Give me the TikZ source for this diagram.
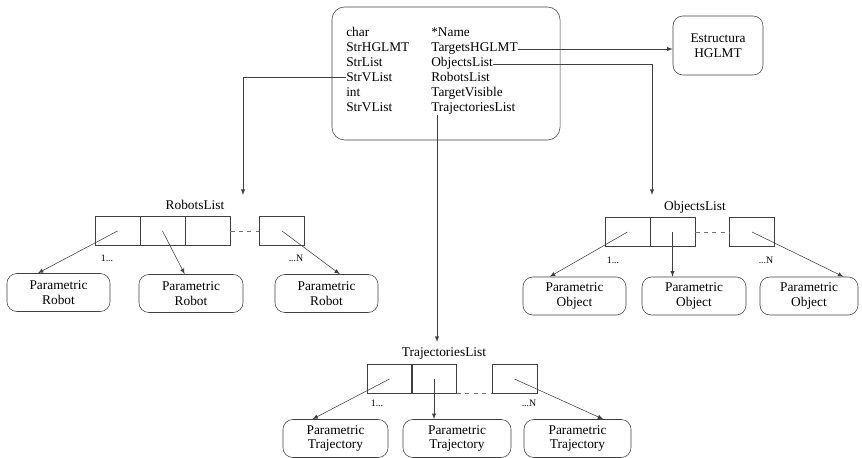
\documentclass[tikz,border=0pt]{standalone}
\usepackage{fontspec}
\setmainfont{Liberation Serif}
\usetikzlibrary{calc}
\tikzstyle{box_round} = [rectangle, draw=black!75, rounded corners=7pt, align=center, inner sep=1pt, font=\fontsize{9.5}{10.5}\selectfont]
\tikzstyle{box_cell} = [rectangle, draw=black!75, minimum width=1.125cm, minimum height=0.72cm, inner sep=0pt]
\tikzstyle{text_entry} = [anchor=base west, inner sep=0pt, font=\fontsize{9.5}{10.5}\selectfont]
\tikzstyle{text_label} = [inner sep=0pt, font=\fontsize{9.5}{10.5}\selectfont]
\tikzstyle{text_index} = [inner sep=0pt, font=\fontsize{7}{8}\selectfont]
\tikzstyle{edge_normal} = [draw=black!75, ->, >=latex]
\tikzstyle{edge_dash} = [draw=black!55, dashed]

\begin{document}
\begin{tikzpicture}[x=0.025cm, y=-0.025cm]
\useasboundingbox (0,0) rectangle (862,458);
% main structure
\node (M) at (446,73.5) [box_round, rounded corners=9pt, minimum width=5.7cm, minimum height=3.325cm] {};
\node (t1) at (346,37) [text_entry] {char};
\node (t2) at (346,52) [text_entry] {StrHGLMT};
\node (t3) at (346,67) [text_entry] {StrList};
\node (t4) at (346,82) [text_entry] {StrVList};
\node (t5) at (346,97) [text_entry] {int};
\node (t6) at (346,112) [text_entry] {StrVList};
\node (n1) at (431,37) [text_entry] {*Name};
\node (n2) at (431,52) [text_entry] {TargetsHGLMT};
\node (n3) at (431,67) [text_entry] {ObjectsList};
\node (n4) at (431,82) [text_entry] {RobotsList};
\node (n5) at (431,97) [text_entry] {TargetVisible};
\node (n6) at (431,112) [text_entry] {TrajectoriesList};
\node (E) at (718,45.5) [box_round, minimum width=2.25cm, minimum height=1.475cm] {Estructura\\HGLMT};

% robots list
\node (RL) at (195,205) [text_label] {RobotsList};
\node (rc1) at (117.5,231) [box_cell] {};
\node (rc2) at (162.5,231) [box_cell] {};
\node (rc3) at (207.5,231) [box_cell] {};
\node (rcn) at (282,231) [box_cell] {};
\node (ri1) at (107,258) [text_index] {1...};
\node (rin) at (296,258) [text_index] {...N};
\node (rb1) at (58.5,292.5) [box_round, minimum width=2.575cm, minimum height=0.95cm] {Parametric\\Robot};
\node (rb2) at (191,293.5) [box_round, minimum width=2.6cm, minimum height=0.95cm] {Parametric\\Robot};
\node (rb3) at (326.5,293.5) [box_round, minimum width=2.575cm, minimum height=0.95cm] {Parametric\\Robot};

% objects list
\node (OL) at (695,207) [text_label] {ObjectsList};
\node (oc1) at (627.5,232) [box_cell] {};
\node (oc2) at (672.5,232) [box_cell] {};
\node (ocn) at (752,232) [box_cell] {};
\node (oi1) at (613,260) [text_index] {1...};
\node (oin) at (766,260) [text_index] {...N};
\node (ob1) at (574.5,296) [box_round, minimum width=2.575cm, minimum height=0.95cm] {Parametric\\Object};
\node (ob2) at (694,296) [box_round, minimum width=2.6cm, minimum height=0.95cm] {Parametric\\Object};
\node (ob3) at (809,296) [box_round, minimum width=2.45cm, minimum height=0.95cm] {Parametric\\Object};

% trajectories list
\node (TL) at (444,353) [text_label] {TrajectoriesList};
\node (tc1) at (389.5,379) [box_cell] {};
\node (tc2) at (434,379) [box_cell] {};
\node (tcn) at (514.5,379) [box_cell] {};
\node (ti1) at (377,403) [text_index] {1...};
\node (tin) at (529,403) [text_index] {...N};
\node (tb1) at (335.5,438.5) [box_round, minimum width=2.625cm, minimum height=0.95cm] {Parametric\\Trajectory};
\node (tb2) at (457,438.5) [box_round, minimum width=2.7cm, minimum height=0.95cm] {Parametric\\Trajectory};
\node (tb3) at (577.5,438.5) [box_round, minimum width=2.675cm, minimum height=0.95cm] {Parametric\\Trajectory};

% links from the structure
\coordinate (r_in) at (243,195);
\coordinate (o_in) at (652,195);
\coordinate (t_in) at (437,342);
\draw[edge_normal] (n2.east) -- (n2.east -| E.west);
\draw[edge_normal] (n3.east) -| (o_in);
\draw[edge_normal] (t4.west) -| (r_in);
\draw[edge_normal] (t_in |- n6.south) -- (t_in);

% links from the cells
\draw[edge_dash] (rc3.east) -- (rcn.west);
\draw[edge_dash] (oc2.east) -- (ocn.west);
\draw[edge_dash] (tc2.south east) -- (tcn.south west);
\draw[edge_normal] (rc1.center) -- ($(rb1.north west)!0.30!(rb1.north east)$);
\draw[edge_normal] (rc2.center) -- ($(rb2.north west)!0.44!(rb2.north east)$);
\draw[edge_normal] (rcn.center) -- ($(rb3.north west)!0.63!(rb3.north east)$);
\draw[edge_normal] (oc1.center) -- ($(ob1.north west)!0.26!(ob1.north east)$);
\draw[edge_normal] (oc2.center) -- (oc2.center |- ob2.north);
\draw[edge_normal] (ocn.center) -- ($(ob3.north west)!0.85!(ob3.north east)$);
\draw[edge_normal] (tc1.center) -- ($(tb1.north west)!0.28!(tb1.north east)$);
\draw[edge_normal] (tc2.center) -- (tc2.center |- tb2.north);
\draw[edge_normal] (tcn.center) -- ($(tb3.north west)!0.74!(tb3.north east)$);
\end{tikzpicture}
\end{document}
